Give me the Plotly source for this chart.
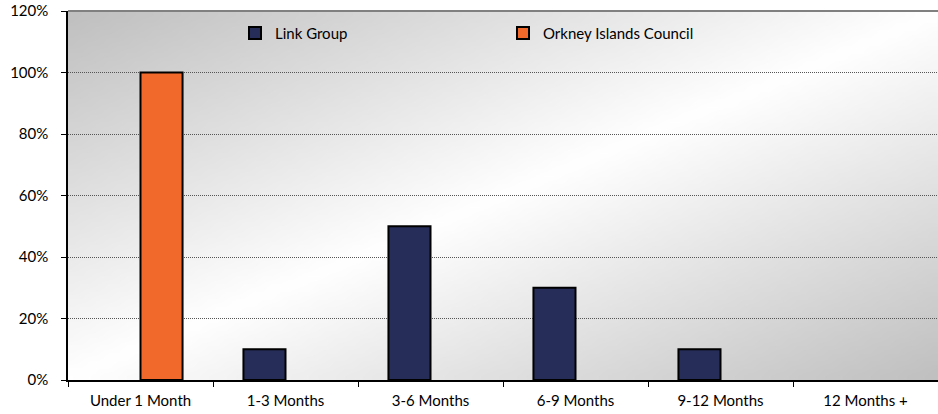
import zlib, struct, base64
import plotly.graph_objects as go

categories = ["Under 1 Month", "1-3 Months", "3-6 Months", "6-9 Months", "9-12 Months", "12 Months +"]
link_group = [0, 10, 50, 30, 10, 0]
orkney = [100, 0, 0, 0, 0, 0]
series_names = ["Link Group", "Orkney Islands Council"]
y_ticks = [0, 20, 40, 60, 80, 100, 120]
y_tick_labels = ["0%", "20%", "40%", "60%", "80%", "100%", "120%"]


def make_png(w, h, pix):
    raw = b"".join(b"\x00" + bytes(row) for row in pix)

    def chunk(t, d):
        c = struct.pack(">I", len(d)) + t + d
        return c + struct.pack(">I", zlib.crc32(t + d) & 0xFFFFFFFF)

    return (b"\x89PNG\r\n\x1a\n"
            + chunk(b"IHDR", struct.pack(">IIBBBBB", w, h, 8, 2, 0, 0, 0))
            + chunk(b"IDAT", zlib.compress(raw))
            + chunk(b"IEND", b""))


# diagonal background gradient: gray (top-left) -> white (anti-diagonal) -> gray (bottom-right)
GW, GH = 96, 48
edge = 192
rows = []
for j in range(GH):
    row = []
    d = j / (GH - 1)
    for i in range(GW):
        u = i / (GW - 1)
        t = (u + d) / 2.0
        k = 1 - abs(2 * t - 1)
        v = int(round(edge + (255 - edge) * k))
        row += [v, v, v]
    rows.append(row)
bg_src = "data:image/png;base64," + base64.b64encode(make_png(GW, GH, rows)).decode()

font_family = "Lato, 'Open Sans', sans-serif"


def nonzero(vals):
    # zero-height bars are not drawn in the reference
    return [v if v else None for v in vals]


fig = go.Figure()
fig.add_trace(go.Bar(
    x=categories, y=nonzero(link_group), name=series_names[0],
    marker=dict(color="#262d58", line=dict(color="#000000", width=2)),
))
fig.add_trace(go.Bar(
    x=categories, y=nonzero(orkney), name=series_names[1],
    marker=dict(color="#f26a2b", line=dict(color="#000000", width=2)),
))

fig.update_layout(
    width=938, height=414,
    margin=dict(l=68, r=0, t=11, b=34),
    paper_bgcolor="#ffffff",
    plot_bgcolor="#ffffff",
    barmode="group",
    bargap=0.42,
    bargroupgap=0,
    font=dict(family=font_family, size=15, color="#000000"),
    showlegend=True,
    legend=dict(
        orientation="h",
        x=(235 - 68) / 870, xanchor="left",
        y=0.94, yanchor="middle",
        bgcolor="rgba(0,0,0,0)",
        font=dict(size=15, color="#000000"),
        entrywidth=223, entrywidthmode="pixels",
        traceorder="normal",
    ),
    images=[dict(
        source=bg_src, xref="x domain", yref="y domain",
        x=0, y=1, sizex=1, sizey=1, xanchor="left", yanchor="top",
        sizing="stretch", layer="below",
    )],
    shapes=[dict(
        type="line", xref="x domain", yref="y domain",
        x0=0, x1=1, y0=1, y1=1,
        line=dict(color="#808080", width=2),
    )],
)

fig.update_xaxes(
    type="category",
    showline=True, linecolor="#000000", linewidth=1.5,
    ticks="outside", tickson="boundaries", ticklen=5, tickcolor="#000000", tickwidth=1,
    showgrid=False,
    ticklabelstandoff=6,
    tickfont=dict(size=15),
)
fig.update_yaxes(
    range=[0, 120], tickvals=y_ticks, ticktext=y_tick_labels,
    showline=True, linecolor="#000000", linewidth=1.5,
    ticks="outside", ticklen=5, tickcolor="#000000", tickwidth=1,
    showgrid=True, gridcolor="#555555", gridwidth=1, griddash="1px,1px",
    zeroline=False,
    ticklabelstandoff=10,
    tickfont=dict(size=15),
)

fig.write_html(
    "out.html",
    config={"displayModeBar": False},
    post_script="document.body.style.margin='0';document.body.style.padding='0';",
)
